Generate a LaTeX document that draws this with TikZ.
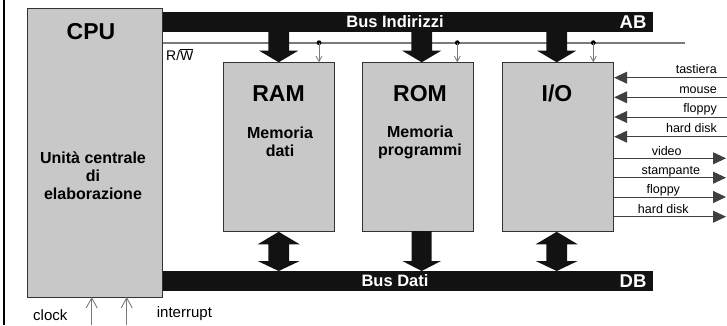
\documentclass[tikz,border=0pt]{standalone}
\usepackage{fontspec}
\setmainfont{Liberation Sans}
\usetikzlibrary{arrows.meta}
\definecolor{boxgray}{HTML}{C8C8C8}
\definecolor{busblack}{HTML}{121212}
\definecolor{linegray}{HTML}{7A7A7A}
\definecolor{edgegray}{HTML}{333333}
\newcommand{\overbarW}{\setbox0\hbox{W}\rlap{\rule[\dimexpr\ht0+1.2pt\relax]{\wd0}{0.6pt}}W}
\begin{document}
\begin{tikzpicture}[x=1pt,y=-1pt,
  box/.style={draw=edgegray, fill=boxgray, line width=0.9pt, inner sep=0pt, anchor=north west},
  bus/.style={fill=busblack, inner sep=0pt, anchor=north west, minimum width=491pt, minimum height=20pt},
  bigtxt/.style={font=\fontsize{23}{27}\selectfont\bfseries, inner sep=0pt, anchor=base},
  midtxt/.style={font=\fontsize{16}{18}\selectfont\bfseries, inner sep=0pt, align=center, anchor=center},
  bustxt/.style={font=\fontsize{16.5}{18}\selectfont\bfseries, text=white, inner sep=0pt},
  bustag/.style={font=\fontsize{18.5}{20}\selectfont\bfseries, text=white, inner sep=0pt},
  iotxt/.style={font=\fontsize{12.5}{14}\selectfont, inner sep=0pt},
  sigtxt/.style={font=\fontsize{15}{17}\selectfont, inner sep=0pt, anchor=base west},
  bigarrow/.style={fill=busblack},
  ioline/.style={draw=black!75, line width=0.9pt},
  inarrow/.style={ioline, -{Triangle[length=13pt,width=12pt]}},
  rwarrow/.style={draw=linegray, line width=0.8pt, -{Straight Barb[length=5.5pt,width=6pt]}},
  sigarrow/.style={draw=linegray, line width=0.9pt, -{Straight Barb[length=10pt,width=11pt]}}
]
\useasboundingbox (0,0) rectangle (727,325);
% left frame line
\coordinate (lt) at (3.7,0);
\coordinate (lb) at (3.7,325);
\draw[line width=1.8pt, black] (lt) -- (lb);

% buses
\node[bus] (ab) at (162,12) {};
\node[bus] (db) at (162,271) {};
\node[bustxt] (abl) at (395,22) {Bus Indirizzi};
\node[bustag] (abt) at (633,22) {AB};
\node[bustxt] (dbl) at (395,281) {Bus Dati};
\node[bustag] (dbt) at (633,281) {DB};

% R/W line
\coordinate (rw0) at (162,42.7);
\coordinate (rw1) at (685,42.7);
\draw[linegray, line width=2pt] (rw0) -- (rw1);
\node[font=\fontsize{14}{16}\selectfont, inner sep=0pt, anchor=base west] (rwl) at (166,60) {R/\overbarW};

% boxes
\node[box, minimum width=135pt, minimum height=289pt] (cpu) at (27,8) {};
\node[box, minimum width=111pt, minimum height=169pt] (ram) at (223,62.3) {};
\node[box, minimum width=111pt, minimum height=169pt] (rom) at (362.3,62.3) {};
\node[box, minimum width=111pt, minimum height=169pt] (io) at (502.3,62.3) {};

% box texts
\node[bigtxt] (cput) at (91,39.3) {CPU};
\node[midtxt] (cpud) at (93,176) {Unità centrale\\di\\elaborazione};
\node[bigtxt] (ramt) at (278.5,101.5) {RAM};
\node[midtxt] (ramd) at (280,142) {Memoria\\dati};
\node[bigtxt] (romt) at (420,101.5) {ROM};
\node[midtxt] (romd) at (420,142) {Memoria\\programmi};
\node[bigtxt] (iot) at (557,101.5) {I/O};

% address bus arrows
\foreach \c/\n in {278.7/ram,421.7/rom,556.7/io}{
  \fill[busblack] (\c-10.3,32) -- (\c+10.3,32) -- (\c+10.3,50.7) -- (\c+19.5,50.7)
    -- (\c,62.3) -- (\c-19.5,50.7) -- (\c-10.3,50.7) -- cycle;
}
% data bus double arrows
\foreach \c in {278.7,556.7}{
  \fill[busblack] (\c,231.8) -- (\c+21,244.3) -- (\c+10.3,244.3) -- (\c+10.3,261)
    -- (\c+21,261) -- (\c,271) -- (\c-21,261) -- (\c-10.3,261) -- (\c-10.3,244.3)
    -- (\c-21,244.3) -- cycle;
}
% ROM single arrow
\fill[busblack] (411.7,231) -- (431.7,231) -- (431.7,261) -- (441,261) -- (421.7,271)
  -- (402.4,261) -- (411.7,261) -- cycle;

% R/W taps
\foreach \x/\n in {319/ram,457.3/rom,593.3/io}{
  \coordinate (tap\n) at (\x,42.7);
  \coordinate (tip\n) at (\x,62.3);
  \fill[black] (tap\n) circle (2.4pt);
  \draw[rwarrow] (tap\n) -- (tip\n);
}

% I/O inputs
\foreach \y/\t/\b in {77.7/tastiera/73,97.3/mouse/93.3,117/floppy/112.7,136.7/hard disk/132}{
  \coordinate (inA) at (727,\y);
  \coordinate (inB) at (io.east |- inA);
  \draw[inarrow] (inA) -- (inB);
  \node[iotxt, anchor=base east] at (717,\b) {\t};
}
% I/O outputs
\foreach \y/\t/\b/\xc in {158.3/video/155/666.7,177.7/stampante/174.2/670.8,197/floppy/193.6/663.3,216.7/hard disk/213.3/663.3}{
  \coordinate (outA) at (io.east |- {(0,\y)});
  \coordinate (outB) at (726,\y);
  \draw[inarrow] (outA) -- (outB);
  \node[iotxt, anchor=base] at (\xc,\b) {\t};
}

% clock / interrupt
\coordinate (clk0) at (91.7,325);
\coordinate (clk1) at (91.7,297);
\coordinate (int0) at (126.7,325);
\coordinate (int1) at (126.7,297);
\draw[sigarrow] (clk0) -- (clk1);
\draw[sigarrow] (int0) -- (int1);
\node[sigtxt] (clkl) at (33,320) {clock};
\node[sigtxt] (intl) at (156.7,317.5) {interrupt};
\end{tikzpicture}
\end{document}
